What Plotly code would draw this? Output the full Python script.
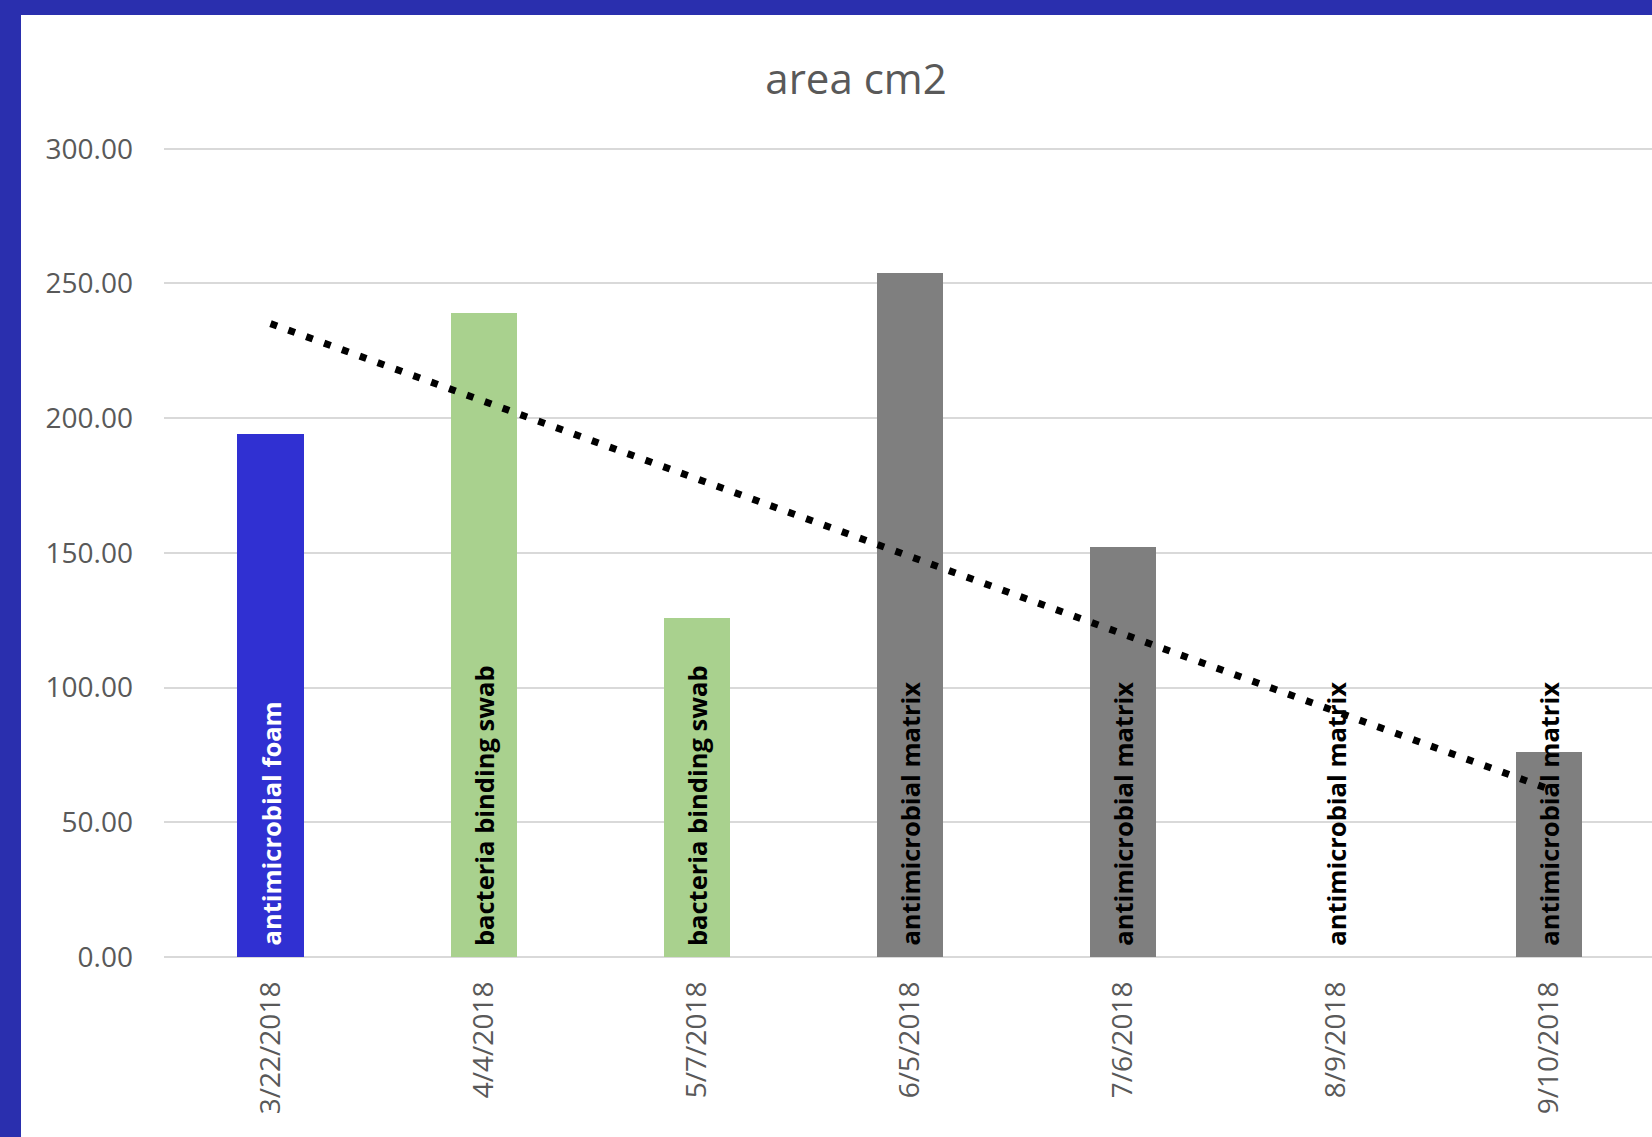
import numpy as np
import plotly.graph_objects as go

categories = ["3/22/2018", "4/4/2018", "5/7/2018", "6/5/2018", "7/6/2018", "8/9/2018", "9/10/2018"]
area_cm2 = [194, 239, 126, 254, 152, 0, 76]
products = ["antimicrobial foam", "bacteria binding swab", "bacteria binding swab",
            "antimicrobial matrix", "antimicrobial matrix", "antimicrobial matrix",
            "antimicrobial matrix"]
y_ticks = [0, 50, 100, 150, 200, 250, 300]

product_colors = {
    "antimicrobial foam": "#3030D2",
    "bacteria binding swab": "#A9D18E",
    "antimicrobial matrix": "#7F7F7F",
}
label_colors = {
    "antimicrobial foam": "#FFFFFF",
    "bacteria binding swab": "#000000",
    "antimicrobial matrix": "#000000",
}

W, H = 1652, 1137
ML, MR, MT, MB = 164, 0, 146, 180
pw = W - ML - MR
ph = H - MT - MB
BORDER = "#2A2FAE"
FONT = "Open Sans"

fig = go.Figure()
fig.add_trace(go.Bar(
    x=categories, y=area_cm2, width=0.31,
    marker=dict(color=[product_colors[p] for p in products], line=dict(width=0)),
    showlegend=False, hoverinfo="skip",
))

# linear trendline (least squares over category index)
xi = np.arange(len(categories))
slope, intercept = np.polyfit(xi, area_cm2, 1)
fig.add_trace(go.Scatter(
    x=[categories[0], categories[-1]],
    y=[intercept + slope * xi[0], intercept + slope * xi[-1]],
    mode="lines", line=dict(color="#000000", width=7, dash="7px,12px"),
    showlegend=False, hoverinfo="skip",
))

for c, p in zip(categories, products):
    fig.add_annotation(
        x=c, y=0, xref="x", yref="y", text=p, textangle=-90,
        showarrow=False, xanchor="center", yanchor="bottom", yshift=9,
        font=dict(family=FONT, size=25.5, color=label_colors[p], weight="bold"),
    )

def px_x(px):
    return (px - ML) / pw

def px_y(py):
    return (H - MB - py) / ph

# blue frame (left and top)
fig.add_shape(type="rect", xref="paper", yref="paper", layer="above",
              x0=px_x(0), x1=px_x(21), y0=px_y(H), y1=px_y(0),
              fillcolor=BORDER, line=dict(width=0))
fig.add_shape(type="rect", xref="paper", yref="paper", layer="above",
              x0=px_x(0), x1=px_x(W), y0=px_y(15), y1=px_y(0),
              fillcolor=BORDER, line=dict(width=0))

fig.update_layout(
    width=W, height=H,
    margin=dict(l=ML, r=MR, t=MT, b=MB, pad=0),
    paper_bgcolor="#FFFFFF", plot_bgcolor="#FFFFFF",
    title=dict(text="area cm2", x=856 / W, xref="container", xanchor="center",
               y=1 - 79 / H, yref="container", yanchor="middle",
               font=dict(family=FONT, size=42, color="#595959")),
    bargap=0,
    xaxis=dict(type="category", range=[-0.5, 6.485], tickangle=-90,
               showgrid=False, showline=False, ticks="", ticklabelstandoff=18,
               tickfont=dict(family=FONT, size=28, color="#595959")),
    yaxis=dict(range=[0, 301], tickvals=y_ticks,
               ticktext=[f"{v:.2f}" for v in y_ticks],
               showgrid=True, gridcolor="#D9D9D9", gridwidth=2,
               zeroline=True, zerolinecolor="#D9D9D9", zerolinewidth=2,
               showline=False, ticks="", ticklabelstandoff=30,
               tickfont=dict(family=FONT, size=28, color="#595959")),
)

fig.write_html("out.html")
